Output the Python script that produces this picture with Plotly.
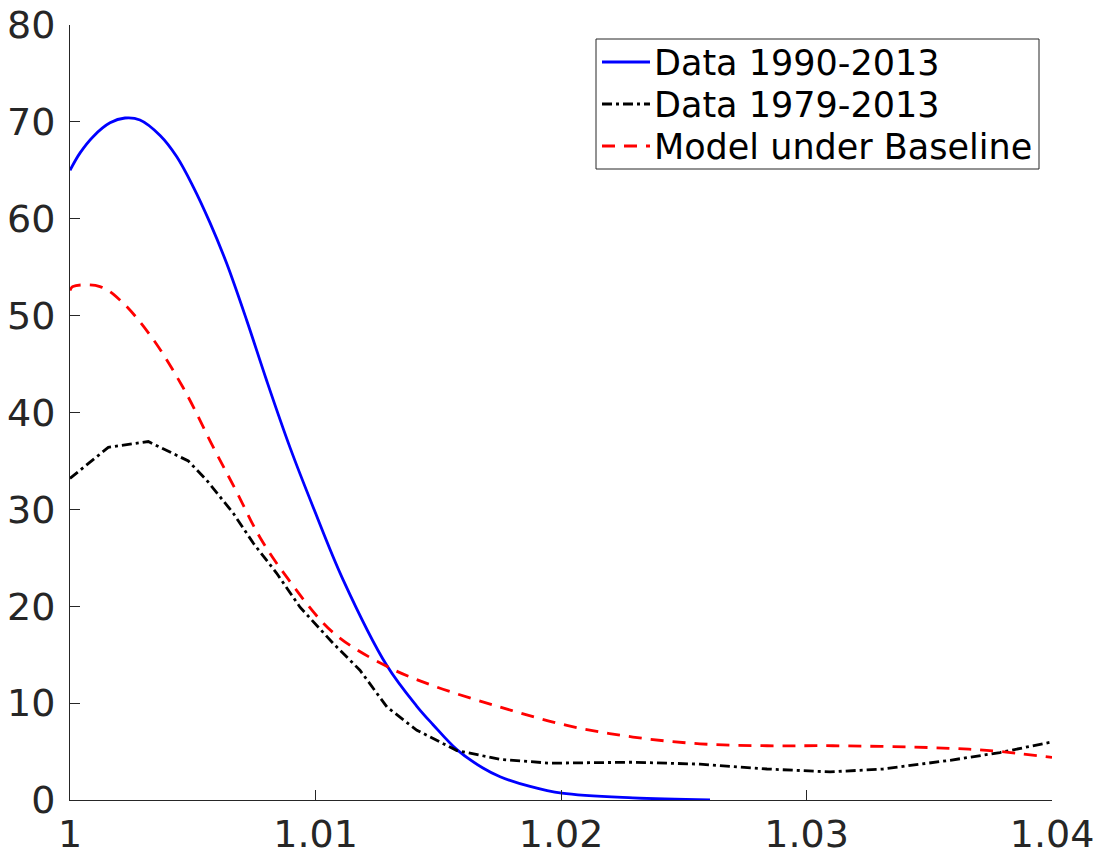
import plotly.graph_objects as go

# Data 1990-2013 (blue, solid)
x_blue = [1.0, 1.00041, 1.00095, 1.00163, 1.00224, 1.00285, 1.00367, 1.00435, 1.00502,
          1.0057, 1.00638, 1.0072, 1.00801, 1.00896, 1.00991, 1.01113, 1.0129,
          1.01412, 1.01478, 1.01576, 1.01682, 1.01752, 1.01874, 1.02003, 1.02293, 1.02607]
y_blue = [65.0, 66.8, 68.5, 69.9, 70.4, 70.2, 68.6, 66.4, 63.3,
          59.6, 55.4, 49.5, 43.3, 36.4, 30.2, 22.7, 13.9,
          9.7, 7.8, 5.2, 3.3, 2.4, 1.4, 0.7, 0.22, 0.02]

# Data 1979-2013 (black, dash-dot)
x_black = [1.0, 1.00156, 1.00319, 1.00482, 1.00557, 1.00665, 1.00747, 1.00842, 1.00937,
           1.01071, 1.01181, 1.01291, 1.01413, 1.01576, 1.01752, 1.01955, 1.02293, 1.02566,
           1.02839, 1.03096, 1.03312, 1.03585, 1.03788, 1.04]
y_black = [33.2, 36.4, 37.0, 35.0, 33.0, 29.6, 26.5, 23.4, 19.9,
           16.2, 13.4, 9.6, 7.2, 5.1, 4.2, 3.8, 3.9, 3.7,
           3.2, 2.9, 3.2, 4.1, 4.9, 6.0]

# Model under Baseline (red, dashed)
x_red = [1.0, 1.00012, 1.00122, 1.00204, 1.00326, 1.0046, 1.00584, 1.00679, 1.00774,
         1.00883, 1.01071, 1.0129, 1.01479, 1.01752, 1.02024, 1.02293, 1.02566, 1.02839,
         1.03108, 1.03515, 1.03747, 1.04]
y_red = [52.6, 53.0, 53.0, 51.6, 48.0, 42.6, 36.4, 31.8, 27.1,
         23.0, 17.3, 13.8, 11.8, 9.6, 7.7, 6.5, 5.8, 5.6,
         5.6, 5.4, 5.1, 4.4]

names = ["Data 1990-2013", "Data 1979-2013", "Model under Baseline"]
colors = ["#0000FF", "#000000", "#FF0000"]
dashes = ["solid", "10px,4px,3px,4px", "13px,9px"]

fig = go.Figure()
fig.add_trace(go.Scatter(x=x_blue, y=y_blue, mode="lines", name=names[0], showlegend=False,
                         line=dict(color=colors[0], width=2.8, shape="spline", smoothing=1.0)))
fig.add_trace(go.Scatter(x=x_black, y=y_black, mode="lines", name=names[1], showlegend=False,
                         line=dict(color=colors[1], width=2.8, dash=dashes[1])))
fig.add_trace(go.Scatter(x=x_red, y=y_red, mode="lines", name=names[2], showlegend=False,
                         line=dict(color=colors[2], width=2.8, dash=dashes[2], shape="spline", smoothing=1.0)))

# ---- legend drawn manually (pixel layout -> paper coords) ----
L, R, T, B = 70, 1052, 25, 800
def px(xp):
    return (xp - L) / (R - L)
def py(yp):
    return (B - yp) / (B - T)

fig.add_shape(type="rect", xref="paper", yref="paper",
              x0=px(596), x1=px(1039), y0=py(169), y1=py(39),
              line=dict(color="#262626", width=1), fillcolor="white", layer="above")
row_y = [62, 104, 146]
for i in range(3):
    fig.add_shape(type="line", xref="paper", yref="paper",
                  x0=px(602), x1=px(650), y0=py(row_y[i]), y1=py(row_y[i]),
                  line=dict(color=colors[i], width=2.8, dash=dashes[i]), layer="above")
    fig.add_annotation(x=px(652), y=py(row_y[i] + 1), xref="paper", yref="paper",
                       text=names[i], showarrow=False, xanchor="left", yanchor="middle",
                       font=dict(family="DejaVu Sans", size=35, color="#000000"))

axis_common = dict(
    showline=True, linecolor="#262626", linewidth=1,
    ticks="inside", ticklen=10, tickwidth=1, tickcolor="#262626",
    showgrid=False, zeroline=False, mirror=False, automargin=False,
    tickfont=dict(family="DejaVu Sans", size=38, color="#262626"),
)

fig.update_layout(
    width=1105, height=856,
    margin=dict(l=70, r=53, t=25, b=56),
    paper_bgcolor="white", plot_bgcolor="white",
    xaxis=dict(range=[1, 1.04], tickvals=[1, 1.01, 1.02, 1.03, 1.04],
               ticktext=["1", "1.01", "1.02", "1.03", "1.04"], ticklabelstandoff=0, **axis_common),
    yaxis=dict(range=[0, 80], tickvals=[0, 10, 20, 30, 40, 50, 60, 70, 80],
               ticklabelstandoff=6, **axis_common),
    showlegend=False,
)

fig.write_html("out.html")
